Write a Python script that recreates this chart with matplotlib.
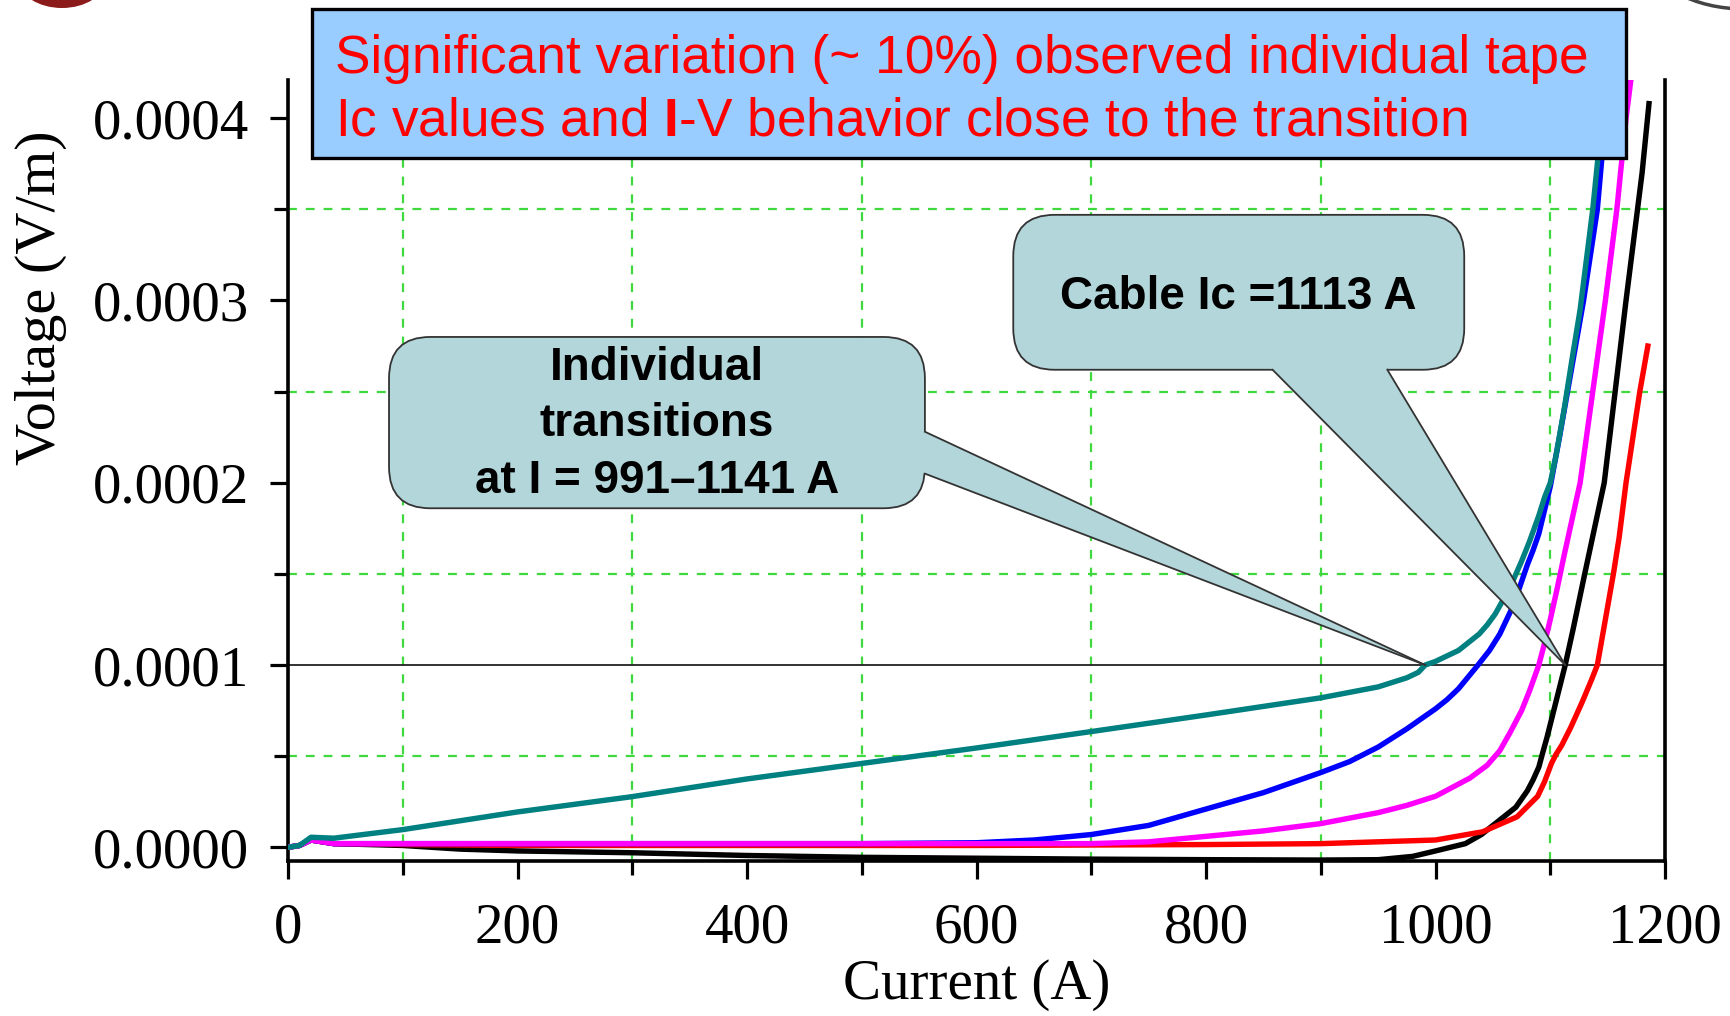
import numpy as np
import matplotlib
matplotlib.use("Agg")
import matplotlib.pyplot as plt
from matplotlib.patches import FancyBboxPatch, Polygon, Rectangle, Ellipse
from matplotlib.ticker import MultipleLocator, FormatStrFormatter

plt.rcParams['font.family'] = 'Liberation Serif'
plt.rcParams['mathtext.fontset'] = 'custom'
plt.rcParams['mathtext.rm'] = 'Liberation Sans'
plt.rcParams['mathtext.bf'] = 'Liberation Sans:bold'

SANS = 'Liberation Sans'

# I-V curves of the individual tapes: current (A), voltage (uV/m)
i_black = [0, 10, 20, 40, 100, 150, 200, 300, 400, 500, 600, 700, 800, 900, 950, 980,
           1000, 1013, 1026, 1040, 1056, 1070, 1080, 1085, 1090, 1093, 1097, 1101, 1105,
           1109, 1113, 1120, 1130, 1147, 1166, 1180, 1186]
v_black = [0, 1, 4, 2, 1, -1, -2, -3, -4.5, -5.5, -6, -6.5, -6.8, -7, -6.8, -5,
           -2, 0, 2, 7, 15, 22, 31, 37, 44, 51, 60, 70, 80,
           90, 100, 120, 150, 200, 300, 370, 408]

i_red = [0, 10, 20, 40, 100, 200, 400, 600, 800, 900, 1000, 1041, 1071, 1089, 1095,
         1101, 1105, 1110, 1114, 1118, 1123, 1128, 1132, 1136, 1141, 1148, 1155, 1160,
         1166, 1172, 1178, 1185]
v_red = [0, 1, 4, 2, 1.5, 1, 1, 1, 1.5, 2, 4, 8.5, 16.7, 28, 36,
         46, 51, 56, 61, 66, 73, 80, 86, 92, 100, 125, 150, 170,
         200, 225, 250, 275]

i_blue = [0, 10, 20, 40, 100, 300, 500, 600, 650, 700, 750, 800, 850, 900, 925, 950,
          975, 1000, 1010, 1020, 1037, 1047, 1056, 1062, 1068, 1074, 1080, 1085, 1090,
          1095, 1100, 1108, 1115, 1122, 1129, 1135, 1141, 1148, 1152]
v_blue = [0, 1, 4, 2, 2, 2, 2, 2.5, 4, 7, 12, 21, 30, 41, 47, 55,
          65, 76, 81, 87, 100, 108, 117, 125, 133, 144, 155, 163, 172,
          185, 198, 225, 250, 275, 300, 325, 350, 400, 425]

i_magenta = [0, 10, 20, 40, 100, 400, 700, 750, 800, 850, 900, 950, 975, 1000, 1015,
             1030, 1045, 1056, 1065, 1075, 1082, 1090, 1095, 1100, 1106, 1112, 1119,
             1126, 1137, 1148, 1158, 1166, 1172]
v_magenta = [0, 1, 4, 2, 2, 2, 2, 3, 6, 9, 13, 19, 23, 28, 33,
             38, 45, 53, 63, 75, 86, 100, 112, 125, 142, 160, 180,
             200, 250, 300, 350, 400, 430]

i_teal = [0, 10, 20, 40, 100, 200, 300, 400, 500, 600, 700, 800, 900, 950, 960, 975,
          985, 991, 1000, 1010, 1020, 1030, 1038, 1045, 1052, 1060, 1068, 1075, 1082,
          1090, 1095, 1100, 1105, 1112, 1119, 1126, 1131, 1137, 1141, 1145, 1150]
v_teal = [0, 1, 5.5, 5, 9.7, 19.4, 27.8, 37.5, 46, 54.5, 63.5, 72.6, 82, 88, 90, 93,
          96, 100, 102, 105, 108, 113, 117, 122, 128, 137, 147, 157, 168,
          182, 192, 200, 215, 240, 268, 295, 320, 350, 375, 400, 430]

curves = [
    (i_black, v_black, '#000000'),
    (i_red, v_red, '#ff0000'),
    (i_blue, v_blue, '#0000ff'),
    (i_magenta, v_magenta, '#ff00ff'),
    (i_teal, v_teal, '#008080'),
]

x_ticks = [0, 200, 400, 600, 800, 1000, 1200]
y_ticks = [0.0, 0.0001, 0.0002, 0.0003, 0.0004]
criterion = 0.0001
cable_ic = 1113
tape_ic_lo, tape_ic_hi = 991, 1141

xlim = (0, 1200)
ylim = (-7.5e-6, 4.21e-4)

fig = plt.figure(figsize=(17.31, 10.16), dpi=100)
ax = fig.add_axes([0.1664, 0.1526, 0.7955, 0.7687])
ax.set_xlim(*xlim)
ax.set_ylim(*ylim)

for i, v, c in curves:
    ax.plot(i, np.array(v) * 1e-6, color=c, lw=3.9, zorder=3)

ax.axhline(criterion, color='#222222', lw=1.3, zorder=2)

ax.set_xticks(x_ticks)
ax.set_yticks(y_ticks)
ax.xaxis.set_minor_locator(MultipleLocator(100))
ax.yaxis.set_minor_locator(MultipleLocator(0.00005))
ax.yaxis.set_major_formatter(FormatStrFormatter('%.4f'))
ax.grid(which='minor', color='#3fd93f', linestyle=(0, (4, 4)), linewidth=1.6, zorder=1)
ax.grid(which='major', visible=False)

ax.spines['top'].set_visible(False)
for s in ('left', 'right', 'bottom'):
    ax.spines[s].set_linewidth(2.6)
ax.tick_params(which='both', direction='out', width=2.3, labelsize=41)
ax.tick_params(which='major', length=13)
ax.tick_params(which='minor', length=10)
ax.tick_params(axis='x', which='major', pad=17)
ax.tick_params(axis='y', which='major', pad=15)

ax.set_xlabel('Current (A)', fontsize=41)
ax.set_ylabel('Voltage (V/m)', fontsize=42)
ax.xaxis.set_label_coords(0.5, -0.125)
ax.yaxis.set_label_coords(-0.1605, 0.721)

# rounded callouts with a wedge pointer
fig_w, fig_h = fig.get_size_inches() * fig.dpi
pos = ax.get_position()
x_per_px = (xlim[1] - xlim[0]) / (pos.width * fig_w)
y_per_px = (ylim[1] - ylim[0]) / (pos.height * fig_h)
aspect = y_per_px / x_per_px

FILL = '#b3d6da'
EDGE = '#333333'


def callout(x0, x1, y0, y1, base_a, base_b, tip, text, ty):
    box = FancyBboxPatch((x0, y0), x1 - x0, y1 - y0,
                         boxstyle='round,pad=0,rounding_size=36',
                         mutation_aspect=aspect, fc=FILL, ec=EDGE, lw=1.3, zorder=5)
    ax.add_patch(box)
    a = np.array(base_a)
    b = np.array(base_b)
    t = np.array(tip)
    a_in = a - (t - a) * 0.03
    b_in = b - (t - b) * 0.03
    ax.add_patch(Polygon([a_in, t, b_in], closed=True, fc=FILL, ec='none', zorder=6))
    ax.plot([a[0], t[0]], [a[1], t[1]], color=EDGE, lw=1.3, zorder=6)
    ax.plot([b[0], t[0]], [b[1], t[1]], color=EDGE, lw=1.3, zorder=6)
    ax.text((x0 + x1) / 2, ty, text, ha='center', va='center',
            fontsize=33, fontweight='bold', family=SANS, linespacing=1.38, zorder=7)


callout(88, 555, 0.000186, 0.000280,
        (555, 0.000228), (555, 0.000205), (tape_ic_lo, criterion),
        f'Individual\ntransitions\nat I = {tape_ic_lo}\u2013{tape_ic_hi} A', 0.000232)
callout(632, 1025, 0.000262, 0.000347,
        (858, 0.000262), (958, 0.000262), (cable_ic, criterion),
        f'Cable Ic ={cable_ic} A', 0.000302)

# headline box
fig.add_artist(Rectangle((312 / 1731, 1 - 158 / 1016), 1314 / 1731, 149 / 1016,
                         transform=fig.transFigure, fc='#99ccff', ec='black',
                         lw=2.4, zorder=10))
fig.text(335 / 1731, 1 - 73 / 1016,
         'Significant variation (~ 10%) observed individual tape',
         color='#ff0000', fontsize=38.3, family=SANS, va='baseline', zorder=11)
fig.text(335 / 1731, 1 - 135 / 1016,
         r'Ic values and $\mathbf{I}$-V behavior close to the transition',
         color='#ff0000', fontsize=38.3, family=SANS, va='baseline', zorder=11)

# slide decorations at the top corners
fig.add_artist(Ellipse((62 / 1731, 1 + 20 / 1016), 86 / 1731, 56 / 1016,
                       transform=fig.transFigure, fc='#8b1a1a', ec='none', zorder=9))
fig.add_artist(Ellipse((1745 / 1731, 1 + 45 / 1016), 190 / 1731, 108 / 1016,
                       transform=fig.transFigure, fc='none', ec='#444444', lw=2.5, zorder=9))

fig.savefig('out.png', dpi=100)
